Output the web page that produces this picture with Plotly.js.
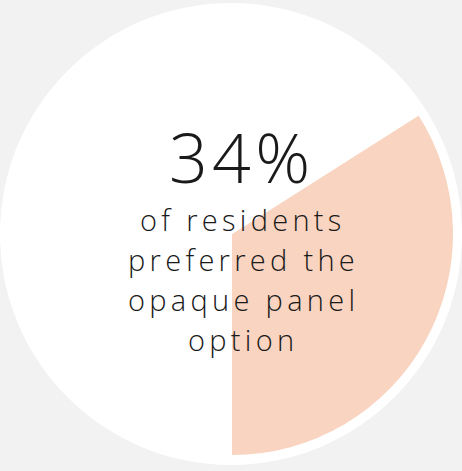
<!DOCTYPE html>
<html>
<head>
<meta charset="utf-8">
<script src="https://cdn.plot.ly/plotly-3.0.1.min.js"></script>
<style>
html, body { margin: 0; padding: 0; background: #f2f2f2; }
#chart { width: 462px; height: 471px; }
.annotation-text { letter-spacing: 4.3px; }
</style>
</head>
<body>
<div id="chart"></div>
<script>
var labels = ["Preferred opaque panel", "Other options"];
var values = [34, 66];
var colors = ["#f9d4c0", "#ffffff"];
var headline = "34%";
var caption = ["of residents", "preferred the", "opaque panel", "option"];

var total = values.reduce(function (a, b) { return a + b; }, 0);

var outer = {
  type: "pie",
  values: [total],
  labels: ["All residents"],
  marker: { colors: ["#ffffff"], line: { width: 0 } },
  textinfo: "none",
  hoverinfo: "none",
  sort: false,
  showlegend: false,
  domain: { x: [0.0, 1.0], y: [6 / 471, 468 / 471] }
};

var inner = {
  type: "pie",
  values: values,
  labels: labels,
  marker: { colors: colors, line: { width: 0 } },
  textinfo: "none",
  hoverinfo: "label+percent",
  sort: false,
  direction: "clockwise",
  // first slice ends at 6 o'clock
  rotation: 180 - 360 * values[0] / total,
  showlegend: false,
  domain: { x: [11 / 462, 453 / 462], y: [16 / 471, 458 / 471] }
};

var annotations = [{
  text: headline,
  x: 241 / 462, y: 1 - 157 / 471,
  xref: "paper", yref: "paper",
  xanchor: "center", yanchor: "middle",
  showarrow: false,
  font: { family: "Open Sans", size: 68, weight: 300, color: "#1a1a1a" }
}];
caption.forEach(function (line, i) {
  annotations.push({
    text: line,
    x: 243 / 462, y: 1 - (219 + 40 * i) / 471,
    xref: "paper", yref: "paper",
    xanchor: "center", yanchor: "middle",
    showarrow: false,
    font: { family: "Open Sans", size: 29, weight: 300, color: "#1a1a1a" }
  });
});

var layout = {
  width: 462, height: 471,
  margin: { l: 0, r: 0, t: 0, b: 0 },
  paper_bgcolor: "#f2f2f2",
  plot_bgcolor: "#f2f2f2",
  showlegend: false,
  annotations: annotations
};

Plotly.newPlot("chart", [outer, inner], layout, { displayModeBar: false, staticPlot: true });
</script>
</body>
</html>
